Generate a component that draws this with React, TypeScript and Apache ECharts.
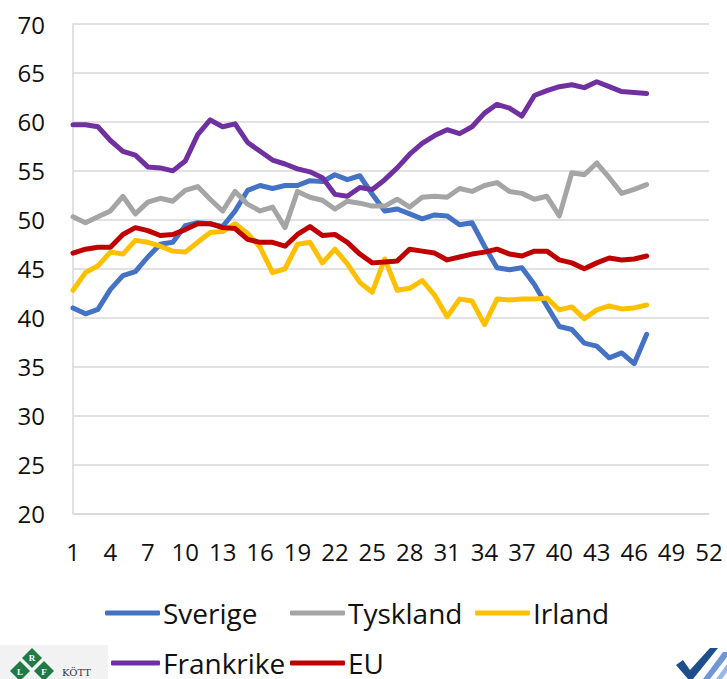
import React, { useEffect, useRef } from "react";
import * as echarts from "echarts";

const weeks: string[] = Array.from({ length: 52 }, (_, i) => String(i + 1));

const sverige = [41.0, 40.4, 40.85, 42.9, 44.3, 44.7, 46.2, 47.5, 47.7, 49.4,
  49.7, 49.6, 49.3, 50.9, 53.0, 53.5, 53.2, 53.5, 53.5, 54.0,
  53.9, 54.6, 54.1, 54.5, 52.6, 50.9, 51.1, 50.6, 50.1,
  50.5, 50.4, 49.5, 49.7, 47.3, 45.1, 44.9, 45.1, 43.4, 41.2,
  39.1, 38.8, 37.4, 37.1, 35.9, 36.4, 35.3, 38.3];

const tyskland = [50.3, 49.7, 50.3, 50.9, 52.4, 50.6, 51.8, 52.2, 51.9, 53.0,
  53.4, 52.1, 50.9, 52.9, 51.6, 50.9, 51.3, 49.2, 52.9, 52.3,
  52.0, 51.1, 51.9, 51.7, 51.4, 51.4, 52.1, 51.3, 52.3,
  52.4, 52.3, 53.2, 52.9, 53.5, 53.8, 52.9, 52.7, 52.1, 52.4,
  50.4, 54.8, 54.6, 55.8, 54.3, 52.7, 53.1, 53.6];

const irland = [42.8, 44.6, 45.3, 46.7, 46.5, 47.9, 47.7, 47.3, 46.8, 46.7,
  47.7, 48.7, 48.8, 49.6, 48.6, 47.2, 44.6, 45.0, 47.5, 47.7,
  45.6, 47.0, 45.5, 43.6, 42.6, 46.0, 42.8, 43.0, 43.8,
  42.3, 40.1, 41.9, 41.7, 39.3, 41.9, 41.8, 41.9, 41.9, 42.0,
  40.8, 41.1, 39.9, 40.8, 41.2, 40.9, 41.0, 41.3];

const frankrike = [59.7, 59.7, 59.5, 58.1, 57.0, 56.6, 55.4, 55.3, 55.0, 56.0,
  58.7, 60.2, 59.5, 59.8, 57.9, 57.0, 56.1, 55.7, 55.2, 54.9,
  54.3, 52.6, 52.4, 53.3, 53.1, 54.1, 55.3, 56.7, 57.8,
  58.6, 59.2, 58.8, 59.5, 60.9, 61.8, 61.4, 60.6, 62.7, 63.2,
  63.6, 63.8, 63.5, 64.1, 63.6, 63.1, 63.0, 62.9];

const eu = [46.6, 47.0, 47.2, 47.2, 48.5, 49.2, 48.9, 48.4, 48.5, 49.0,
  49.6, 49.6, 49.2, 49.1, 48.0, 47.7, 47.7, 47.3, 48.5, 49.3,
  48.4, 48.5, 47.7, 46.5, 45.6, 45.7, 45.8, 47.0, 46.8,
  46.6, 45.9, 46.2, 46.5, 46.7, 47.0, 46.5, 46.3, 46.8, 46.8,
  45.9, 45.6, 45.0, 45.6, 46.1, 45.9, 46.0, 46.3];

const seriesNames = ["Sverige", "Tyskland", "Irland", "Frankrike", "EU"];
const seriesData = [sverige, tyskland, irland, frankrike, eu];
const colors = ["#4472C4", "#A5A5A5", "#FFC000", "#7030A0", "#C00000"];

const FONT = "'Open Sans', 'Liberation Sans', sans-serif";

function diamond(cx: number, cy: number, r: number): number[][] {
  return [[cx, cy - r], [cx + r, cy], [cx, cy + r], [cx - r, cy]];
}

export default function App() {
  const ref = useRef<HTMLDivElement>(null);
  useEffect(() => {
    if (!ref.current) return;
    const chart = echarts.init(ref.current, null, { renderer: "svg" });
    const legendPos = [
      { name: "Sverige", left: 105, top: 599, w: 55 },
      { name: "Tyskland", left: 290, top: 599, w: 55 },
      { name: "Irland", left: 475, top: 599, w: 55 },
      { name: "Frankrike", left: 111, top: 649, w: 49 },
      { name: "EU", left: 290, top: 649, w: 55 },
    ];
    chart.setOption({
      animation: false,
      backgroundColor: "#ffffff",
      grid: { left: 73, right: 18, top: 24, bottom: 165.5, containLabel: false },
      legend: legendPos.map((l) => ({
        data: [l.name],
        left: l.left,
        top: l.top,
        icon: "roundRect",
        itemWidth: l.w,
        itemHeight: 5,
        padding: 0,
        textStyle: { fontFamily: FONT, fontSize: 28, color: "#111", lineHeight: 28, padding: [0, 0, 0, -2] },
        selectedMode: false,
      })),
      xAxis: {
        type: "category",
        data: weeks,
        boundaryGap: false,
        axisLine: { show: true, lineStyle: { color: "#D9D9D9", width: 1.5 } },
        axisTick: { show: false },
        axisLabel: { interval: 2, margin: 26, fontFamily: FONT, fontSize: 24, color: "#111" },
        splitLine: { show: false },
      },
      yAxis: {
        type: "value",
        min: 20,
        max: 70,
        interval: 5,
        axisLine: { show: true, lineStyle: { color: "#D9D9D9", width: 1.5 } },
        axisTick: { show: false },
        axisLabel: { margin: 28, fontFamily: FONT, fontSize: 24, color: "#111" },
        splitLine: { show: true, lineStyle: { color: "#D9D9D9", width: 1.5 } },
      },
      series: seriesNames.map((name, k) => ({
        name,
        type: "line",
        data: seriesData[k],
        symbol: "none",
        smooth: false,
        lineStyle: { width: 5, color: colors[k], cap: "round", join: "round" },
        itemStyle: { color: colors[k] },
      })),
      graphic: [
        { type: "rect", shape: { x: 0, y: 645, width: 108, height: 34 }, style: { fill: "#f2f2f2" } },
        { type: "polygon", shape: { points: diamond(32, 658, 10) }, style: { fill: "#1f7a45" } },
        { type: "polygon", shape: { points: diamond(20, 671, 10) }, style: { fill: "#1f7a45" } },
        { type: "polygon", shape: { points: diamond(44, 671, 10) }, style: { fill: "#1f7a45" } },
        { type: "text", x: 32, y: 658, style: { text: "R", fill: "#fff", fontSize: 9, fontWeight: "bold", align: "center", verticalAlign: "middle", fontFamily: "serif" } },
        { type: "text", x: 20, y: 672, style: { text: "L", fill: "#fff", fontSize: 9, fontWeight: "bold", align: "center", verticalAlign: "middle", fontFamily: "serif" } },
        { type: "text", x: 44, y: 672, style: { text: "F", fill: "#fff", fontSize: 9, fontWeight: "bold", align: "center", verticalAlign: "middle", fontFamily: "serif" } },
        { type: "text", x: 62, y: 672, style: { text: "KÖTT", fill: "#333", fontSize: 10, fontFamily: "'DejaVu Serif', serif", verticalAlign: "middle" } },
        { type: "polygon", shape: { points: [[676, 665], [683, 660], [690, 670], [710, 648], [718, 648], [693, 679], [688, 679]] }, style: { fill: "#1f4e8c" } },
        { type: "polygon", shape: { points: [[703, 679], [723, 652], [727, 652], [727, 657], [710, 679]] }, style: { fill: "#6f97d6" } },
        { type: "polygon", shape: { points: [[716, 679], [727, 664], [727, 672], [722, 679]] }, style: { fill: "#9cb8e6" } },
      ],
    });
    return () => chart.dispose();
  }, []);
  return (
    <div
      ref={ref}
      style={{ position: "absolute", left: 0, top: 0, width: 727, height: 679 }}
    />
  );
}
